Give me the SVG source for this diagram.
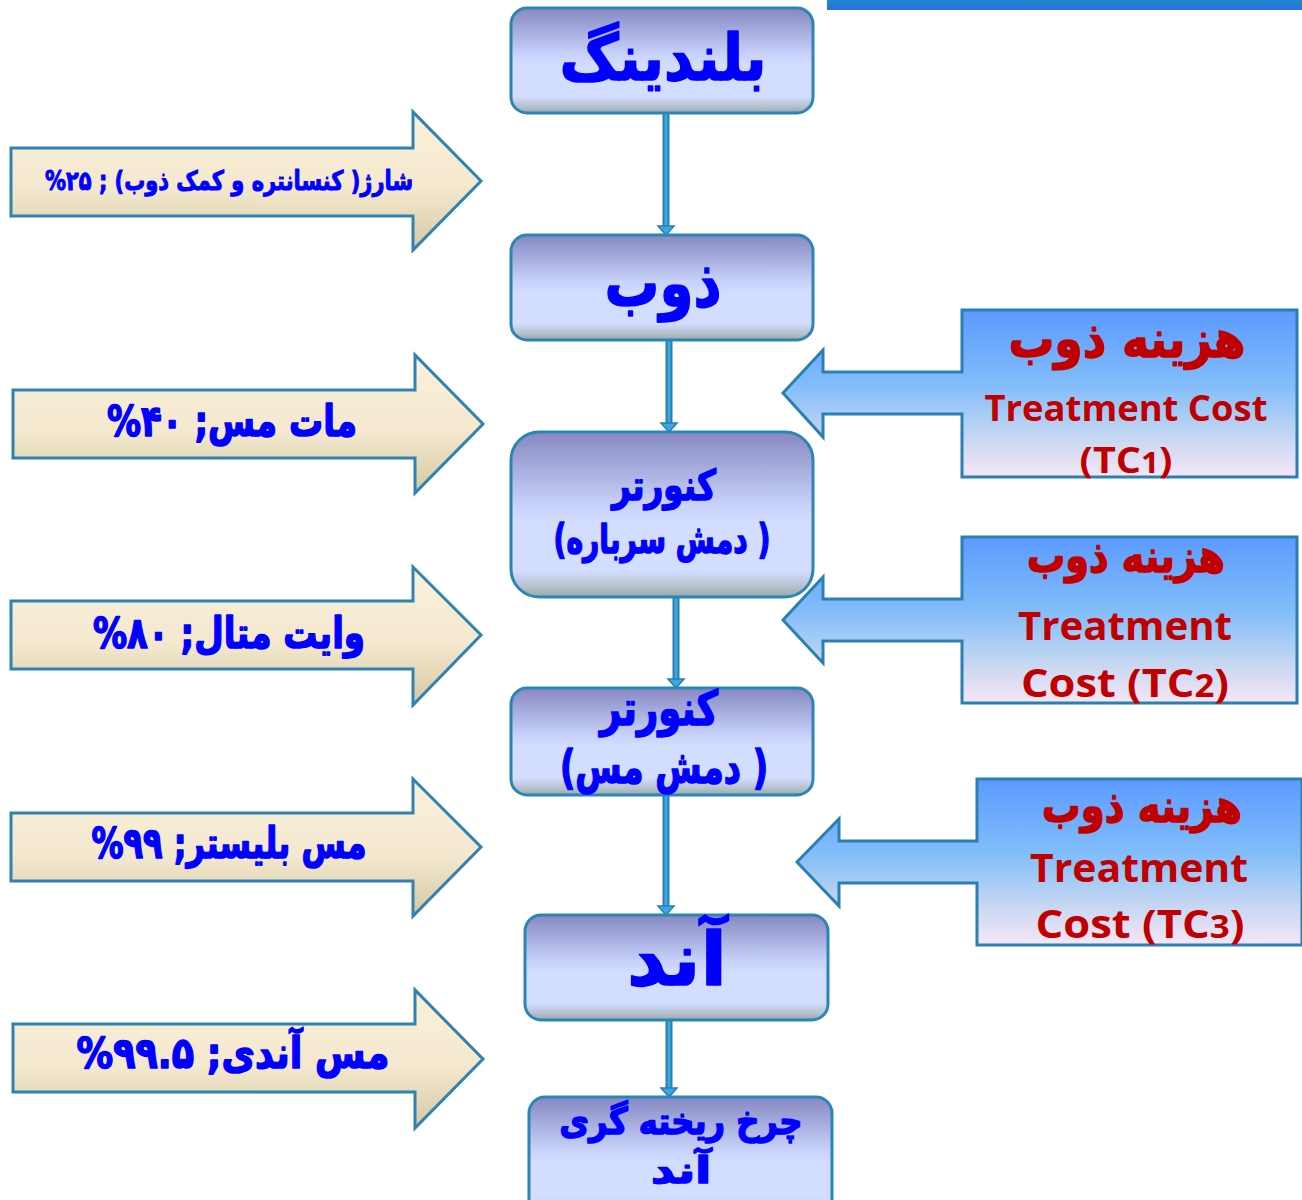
<svg xmlns="http://www.w3.org/2000/svg" width="1302" height="1200" viewBox="0 0 1302 1200">
<defs>
<linearGradient id="gNode" x1="0" y1="0" x2="0" y2="1">
<stop offset="0" stop-color="#8688c2"/>
<stop offset="0.45" stop-color="#c9d3fb"/>
<stop offset="0.55" stop-color="#d3ddff"/>
<stop offset="0.84" stop-color="#d3ddff"/>
<stop offset="0.94" stop-color="#b5c0cc"/>
<stop offset="1" stop-color="#98a8a4"/>
</linearGradient>
<linearGradient id="gArrow" x1="0" y1="0" x2="0" y2="1">
<stop offset="0" stop-color="#fbf0da"/>
<stop offset="0.55" stop-color="#f4e9cf"/>
<stop offset="1" stop-color="#d5c8a2"/>
</linearGradient>
<linearGradient id="gCall" x1="0" y1="0" x2="0" y2="1">
<stop offset="0" stop-color="#5b9aff"/>
<stop offset="0.45" stop-color="#82bdfa"/>
<stop offset="0.75" stop-color="#c3d6f2"/>
<stop offset="1" stop-color="#f7e6f6"/>
</linearGradient>
<linearGradient id="gBar" x1="0" y1="0" x2="0" y2="1">
<stop offset="0" stop-color="#1b8cbf"/>
<stop offset="1" stop-color="#2b6cf0"/>
</linearGradient>
</defs>
<style>
.node{fill:url(#gNode);stroke:#2a86b6;stroke-width:3}
.larrow{fill:url(#gArrow);stroke:#2f82b2;stroke-width:3;stroke-linejoin:miter}
.call{fill:url(#gCall);stroke:#2b80b2;stroke-width:3}
.fa{font-family:"DejaVu Sans",sans-serif;font-weight:bold;direction:rtl;text-anchor:middle;stroke-linejoin:round}
.blue{fill:#0000ff;stroke:#0000ff;stroke-width:1.6}
.red{fill:#c00000;stroke:#c00000;stroke-width:1.6}
.en{font-family:"Open Sans","Liberation Sans",sans-serif;font-weight:bold;fill:#c00000;text-anchor:middle}
.cline{stroke:#2a7fb0;stroke-width:7;fill:none}
.cin{stroke:#3aa8e2;stroke-width:3;fill:none}
.chead{fill:#3aa8e2;stroke:#2a7fb0;stroke-width:1.5}
</style>

<rect x="827" y="0" width="475" height="10" fill="url(#gBar)"/>

<g id="connectors">
<path class="cline" d="M666 114V228"/><path class="cin" d="M666 114V228"/><polygon class="chead" points="658,226 674,226 666,235"/>
<path class="cline" d="M669 341V425"/><path class="cin" d="M669 341V425"/><polygon class="chead" points="661,423 677,423 669,432"/>
<path class="cline" d="M676 598V681"/><path class="cin" d="M676 598V681"/><polygon class="chead" points="668,679 684,679 676,688"/>
<path class="cline" d="M666 796V908"/><path class="cin" d="M666 796V908"/><polygon class="chead" points="658,906 674,906 666,915"/>
<path class="cline" d="M669 1021V1090"/><path class="cin" d="M669 1021V1090"/><polygon class="chead" points="661,1088 677,1088 669,1097"/>
</g>

<g id="n1"><rect class="node" x="511" y="8" width="302" height="105" rx="16"/>
<text class="fa blue" x="663" y="80" font-size="64" textLength="207" lengthAdjust="spacingAndGlyphs">بلندینگ</text></g>
<g id="n2"><rect class="node" x="511" y="235" width="302" height="105" rx="16"/>
<text class="fa blue" x="663" y="306" font-size="66" textLength="117" lengthAdjust="spacingAndGlyphs">ذوب</text></g>
<g id="n3"><rect class="node" x="511" y="432" width="302" height="165" rx="28"/>
<text class="fa blue" x="664" y="500" font-size="42" textLength="104" lengthAdjust="spacingAndGlyphs">کنورتر</text>
<text class="fa blue" x="662" y="553" font-size="40" textLength="217" lengthAdjust="spacingAndGlyphs">( دمش سرباره)</text></g>
<g id="n4"><rect class="node" x="511" y="688" width="302" height="107" rx="16"/>
<text class="fa blue" x="659" y="725" font-size="48" textLength="118" lengthAdjust="spacingAndGlyphs">کنورتر</text>
<text class="fa blue" x="664" y="783" font-size="46" textLength="208" lengthAdjust="spacingAndGlyphs">( دمش مس)</text></g>
<g id="n5"><rect class="node" x="525" y="915" width="303" height="105" rx="16"/>
<text class="fa blue" x="677" y="985" font-size="74" textLength="100" lengthAdjust="spacingAndGlyphs">آند</text></g>
<g id="n6"><rect class="node" x="529" y="1097" width="303" height="120" rx="16"/>
<text class="fa blue" x="681" y="1134" font-size="37" textLength="243" lengthAdjust="spacingAndGlyphs">چرخ ریخته گری</text>
<text class="fa blue" x="681" y="1183" font-size="37" textLength="60" lengthAdjust="spacingAndGlyphs">آند</text></g>

<g id="in1"><polygon class="larrow" points="11,148 413,148 413,112 481,181 413,250 413,216 11,216"/>
<text class="fa blue" x="229" y="190" font-size="27" textLength="368" lengthAdjust="spacingAndGlyphs" style="stroke-width:1">شارژ( کنسانتره و کمک ذوب) ; ۲۵%</text></g>
<g id="in2"><polygon class="larrow" points="13,390 415,390 415,355 483,424 415,493 415,458 13,458"/>
<text class="fa blue" x="232" y="436" font-size="43" textLength="250" lengthAdjust="spacingAndGlyphs">مات مس; ۴۰%</text></g>
<g id="in3"><polygon class="larrow" points="11,601 413,601 413,567 481,635 413,705 413,669 11,669"/>
<text class="fa blue" x="229" y="648" font-size="43" textLength="272" lengthAdjust="spacingAndGlyphs">وایت متال; ۸۰%</text></g>
<g id="in4"><polygon class="larrow" points="11,813 413,813 413,779 481,847 413,916 413,881 11,881"/>
<text class="fa blue" x="229" y="858" font-size="43" textLength="275" lengthAdjust="spacingAndGlyphs">مس بلیستر; ۹۹%</text></g>
<g id="in5"><polygon class="larrow" points="13,1024 415,1024 415,990 483,1059 415,1128 415,1092 13,1092"/>
<text class="fa blue" x="233" y="1068" font-size="43" textLength="313" lengthAdjust="spacingAndGlyphs">مس آندی; ۹۹.۵%</text></g>

<g id="tc1"><path class="call" d="M962 310H1297V477H962V414H823V437L783 393L823 350V372H962Z"/>
<text class="fa red" x="1127" y="357" font-size="52" textLength="237" lengthAdjust="spacingAndGlyphs">هزینه ذوب</text>
<text class="en" x="1126" y="421" font-size="35" textLength="283" lengthAdjust="spacingAndGlyphs">Treatment Cost</text>
<text class="en" x="1126" y="473" font-size="35" textLength="93" lengthAdjust="spacingAndGlyphs">(TC<tspan font-size="28">1</tspan>)</text></g>
<g id="tc2"><path class="call" d="M962 537H1297V703H962V641H823V663L783 620L823 577V599H962Z"/>
<text class="fa red" x="1126" y="572" font-size="46" textLength="198" lengthAdjust="spacingAndGlyphs">هزینه ذوب</text>
<text class="en" x="1125" y="640" font-size="40" textLength="214" lengthAdjust="spacingAndGlyphs">Treatment</text>
<text class="en" x="1125" y="697" font-size="40" textLength="208" lengthAdjust="spacingAndGlyphs">Cost (TC<tspan font-size="32">2</tspan>)</text></g>
<g id="tc3"><path class="call" d="M977 779H1302V945H977V883H839V906L797 862L839 819V841H977Z"/>
<text class="fa red" x="1142" y="822" font-size="46" textLength="200" lengthAdjust="spacingAndGlyphs">هزینه ذوب</text>
<text class="en" x="1139" y="882" font-size="40" textLength="218" lengthAdjust="spacingAndGlyphs">Treatment</text>
<text class="en" x="1140" y="938" font-size="40" textLength="209" lengthAdjust="spacingAndGlyphs">Cost (TC<tspan font-size="32">3</tspan>)</text></g>
</svg>
